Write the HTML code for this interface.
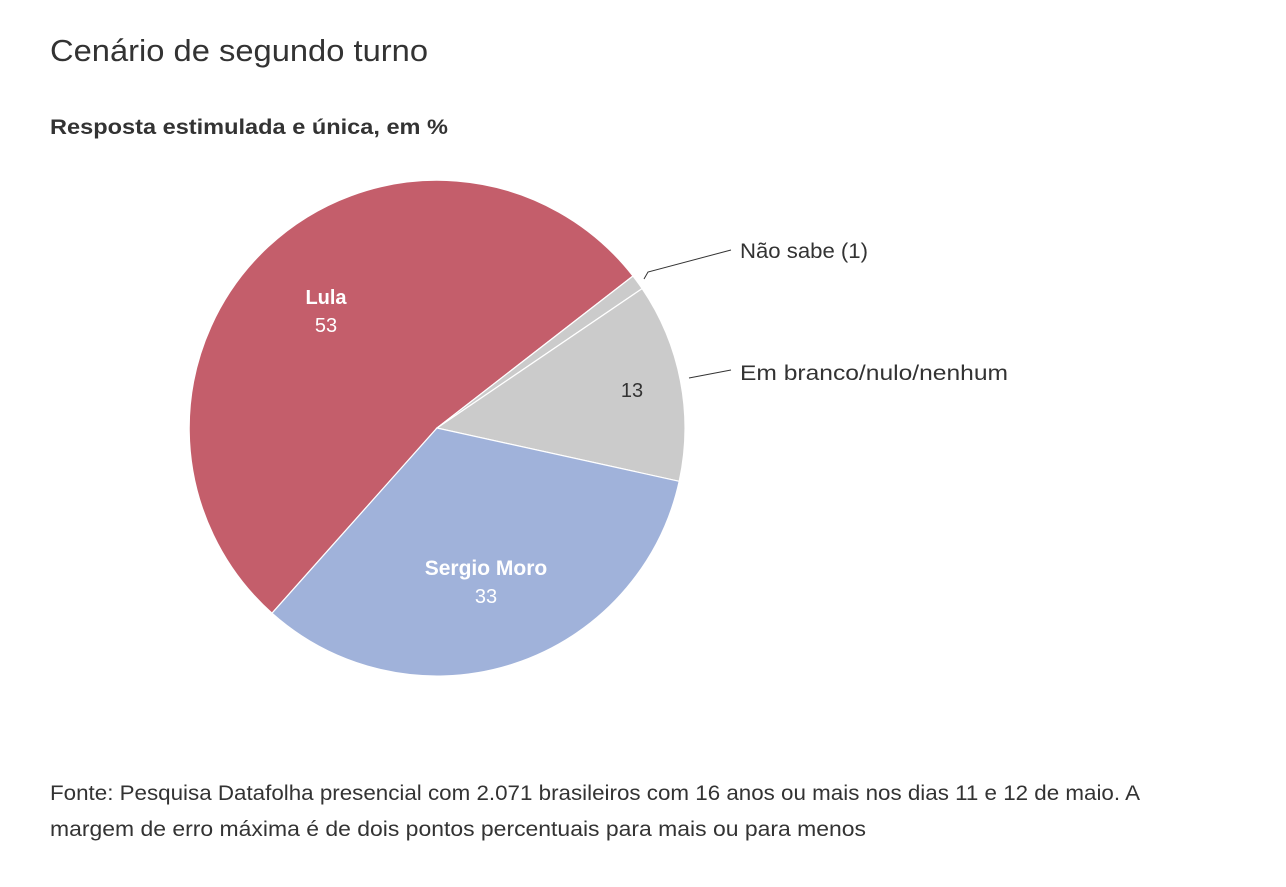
<!DOCTYPE html>
<html><head><meta charset="utf-8"><style>
html,body{margin:0;padding:0;background:#fff;}
body{width:1286px;height:882px;overflow:hidden;font-family:"Liberation Sans",sans-serif;color:#333;}
</style></head><body>
<svg width="1286" height="882" xmlns="http://www.w3.org/2000/svg" font-family="Liberation Sans, sans-serif">
<text x="50" y="61" font-size="31" fill="#333" textLength="378" lengthAdjust="spacingAndGlyphs">Cenário de segundo turno</text>
<text x="50" y="134" font-size="21" font-weight="bold" fill="#333" textLength="398" lengthAdjust="spacingAndGlyphs">Resposta estimulada e única, em %</text>
<g stroke="#fff" stroke-width="1.2">
<path d="M437 428 L632.97 276 A248 248 0 1 0 272 613.2 Z" fill="#c45e6b"/>
<path d="M437 428 L642.1 288.6 A248 248 0 0 0 632.97 276 Z" fill="#cbcbcb"/>
<path d="M437 428 L679.2 481.3 A248 248 0 0 0 642.1 288.6 Z" fill="#cbcbcb"/>
<path d="M437 428 L272 613.2 A248 248 0 0 0 679.2 481.3 Z" fill="#a0b2da"/>
</g>
<polyline points="644,279 648,272 731,250" fill="none" stroke="#333" stroke-width="1"/>
<line x1="689" y1="378" x2="731" y2="370" stroke="#333" stroke-width="1"/>
<text x="740" y="258" font-size="21" fill="#333" textLength="128" lengthAdjust="spacingAndGlyphs">Não sabe (1)</text>
<text x="740" y="380" font-size="21" fill="#333" textLength="268" lengthAdjust="spacingAndGlyphs">Em branco/nulo/nenhum</text>
<text x="326" y="304" font-size="20" font-weight="bold" fill="#fff" text-anchor="middle">Lula</text>
<text x="326" y="332" font-size="20" fill="#fff" text-anchor="middle">53</text>
<text x="632" y="397" font-size="20" fill="#333" text-anchor="middle">13</text>
<text x="486" y="575" font-size="21" font-weight="bold" fill="#fff" text-anchor="middle">Sergio Moro</text>
<text x="486" y="603" font-size="20" fill="#fff" text-anchor="middle">33</text>
<text x="50" y="800" font-size="21" fill="#333" textLength="1090" lengthAdjust="spacingAndGlyphs">Fonte: Pesquisa Datafolha presencial com 2.071 brasileiros com 16 anos ou mais nos dias 11 e 12 de maio. A</text>
<text x="50" y="836" font-size="21" fill="#333" textLength="816" lengthAdjust="spacingAndGlyphs">margem de erro máxima é de dois pontos percentuais para mais ou para menos</text>
</svg>
</body></html>
